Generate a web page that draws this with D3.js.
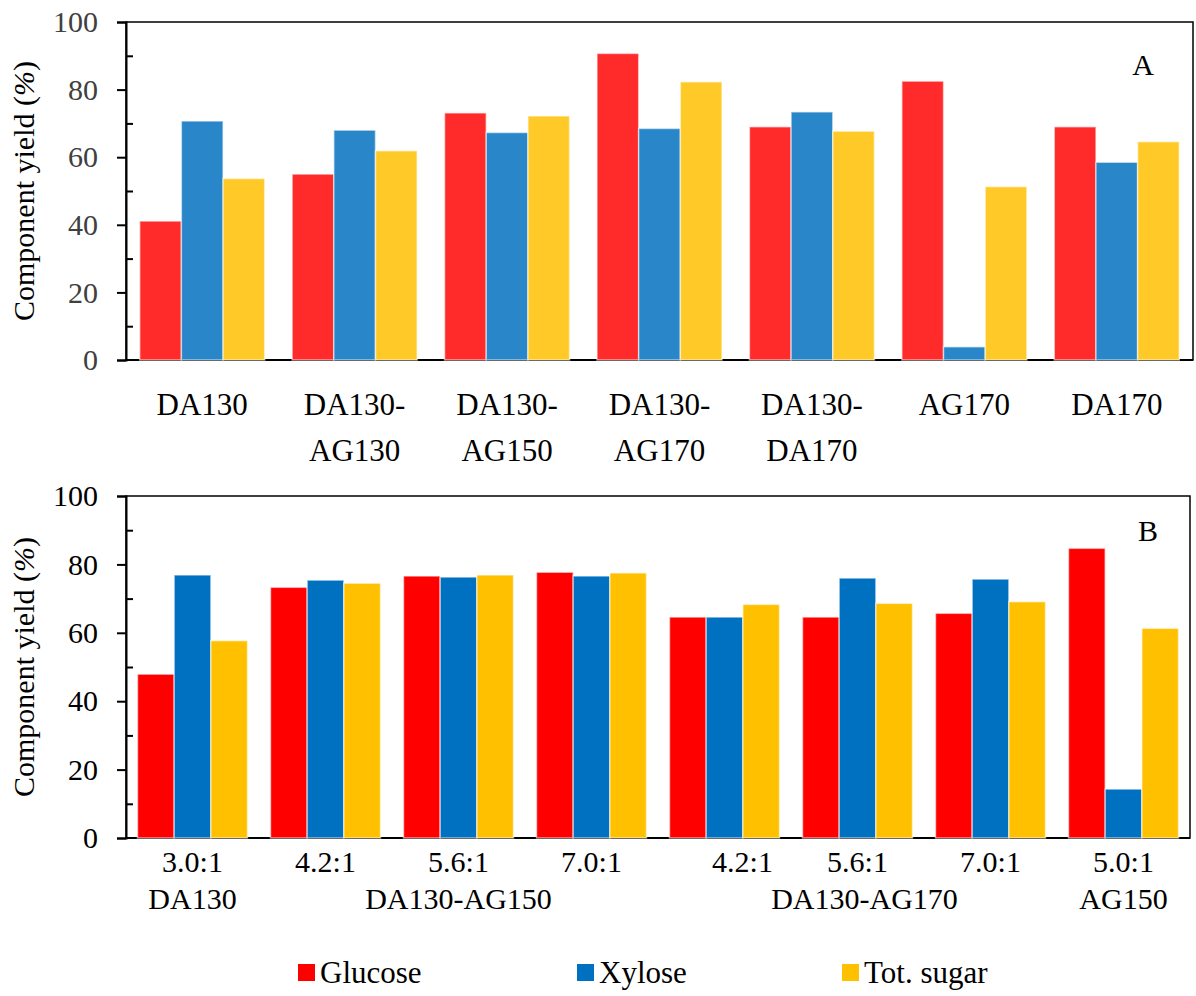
<!DOCTYPE html>
<html>
<head>
<meta charset="utf-8">
<script src="https://cdn.jsdelivr.net/npm/d3@7/dist/d3.min.js"></script>
<style>
    body { margin: 0; background: #fff; }
    svg { display: block; font-family: "Liberation Serif", "Times New Roman", serif; }
</style>
</head>
<body>
<svg id="chart" width="1196" height="996"></svg>
<script>
// Panel A data
const catsA = ["DA130", "DA130-AG130", "DA130-AG150", "DA130-AG170", "DA130-DA170", "AG170", "DA170"];
const labelsA = [["DA130"], ["DA130-", "AG130"], ["DA130-", "AG150"], ["DA130-", "AG170"], ["DA130-", "DA170"], ["AG170"], ["DA170"]];
const glucoseA = [41.1, 55.0, 73.1, 90.7, 69.0, 82.5, 69.0];
const xyloseA = [70.7, 68.0, 67.3, 68.5, 73.4, 3.9, 58.5];
const totSugarA = [53.7, 61.9, 72.2, 82.3, 67.7, 51.3, 64.6];

// Panel B data
const catsB = ["3.0:1 DA130", "4.2:1 AG150", "5.6:1 AG150", "7.0:1 AG150", "4.2:1 AG170", "5.6:1 AG170", "7.0:1 AG170", "5.0:1 AG150"];
const ratioLabelsB = ["3.0:1", "4.2:1", "5.6:1", "7.0:1", "4.2:1", "5.6:1", "7.0:1", "5.0:1"];
const groupLabelsB = ["DA130", "DA130-AG150", "DA130-AG170", "AG150"];
const groupSpanB = [[0, 0], [1, 3], [4, 6], [7, 7]];
const glucoseB = [47.9, 73.3, 76.6, 77.7, 64.6, 64.6, 65.7, 84.7];
const xyloseB = [76.9, 75.4, 76.3, 76.6, 64.6, 76.0, 75.7, 14.3];
const totSugarB = [57.7, 74.5, 76.9, 77.5, 68.3, 68.6, 69.1, 61.3];

const seriesNames = ["Glucose", "Xylose", "Tot. sugar"];
const yTicks = [0, 20, 40, 60, 80, 100];
const yMinorTicks = [10, 30, 50, 70, 90];

const svg = d3.select("#chart");

function drawPanel(cfg) {
    let g = svg.append("g").attr("transform", "translate(" + cfg.left + "," + cfg.top + ")");
    let w = cfg.width, h = cfg.height;

    let x0 = d3.scaleBand().domain(cfg.cats).range([0, w])
        .paddingInner(cfg.pad).paddingOuter(cfg.pad / 2);
    let x1 = d3.scaleBand().domain(seriesNames).range([0, x0.bandwidth()]);
    let y = d3.scaleLinear().domain([0, 100]).range([h, 0]);

    // frame
    g.append("rect")
        .attr("width", w).attr("height", h)
        .attr("fill", "none").attr("stroke", "#000").attr("stroke-width", 1.5);

    // y axis with major ticks outside
    let yAxis = g.append("g")
        .call(d3.axisLeft(y).tickValues(yTicks).tickSize(9).tickPadding(19));
    yAxis.select(".domain").attr("stroke-width", 2);
    yAxis.selectAll(".tick line").attr("stroke-width", 2);
    yAxis.selectAll(".tick text")
        .attr("font-size", 30)
        .attr("font-family", "Liberation Serif, serif")
        .attr("fill", cfg.tickColor);

    // minor ticks inside
    let yMinor = g.append("g")
        .call(d3.axisLeft(y).tickValues(yMinorTicks).tickSize(-7).tickFormat(""));
    yMinor.select(".domain").remove();
    yMinor.selectAll(".tick line").attr("stroke-width", 2);

    // baseline
    g.append("line")
        .attr("x1", 0).attr("x2", w)
        .attr("y1", y(0)).attr("y2", y(0))
        .attr("stroke", "#000").attr("stroke-width", 2);

    // bars
    let rows = cfg.cats.map(function(c, i) {
        return {cat: c, values: [cfg.glucose[i], cfg.xylose[i], cfg.tot[i]]};
    });
    let groups = g.selectAll(".grp").data(rows).enter().append("g")
        .attr("transform", function(d) { return "translate(" + x0(d.cat) + ",0)"; });
    groups.selectAll("rect")
        .data(function(d) { return d.values.map(function(v, k) { return {s: seriesNames[k], v: v}; }); })
        .enter().append("rect")
        .attr("x", function(d) { return x1(d.s); })
        .attr("y", function(d) { return y(d.v); })
        .attr("width", x1.bandwidth())
        .attr("height", function(d) { return h - y(d.v); })
        .attr("fill", function(d, k) { return cfg.colors[k]; })
        .attr("stroke", "rgba(255,255,255,0.55)")
        .attr("stroke-width", 1.5);

    // y title
    let title = g.append("text")
        .attr("transform", "translate(" + (34 - cfg.left) + "," + (h / 2) + ") rotate(-90)")
        .attr("text-anchor", "middle")
        .attr("font-size", 30)
        .attr("fill", "#000");
    title.append("tspan").text("Component yield (");
    title.append("tspan").attr("font-style", "italic").text("%");
    title.append("tspan").text(")");

    // panel letter
    g.append("text")
        .attr("x", cfg.letterX).attr("y", cfg.letterY)
        .attr("text-anchor", "middle")
        .attr("font-size", 30)
        .text(cfg.letter);

    return {g: g, x0: x0};
}

// Panel A
let panelA = drawPanel({
    left: 126, top: 22, width: 1067, height: 338,
    cats: catsA, glucose: glucoseA, xylose: xyloseA, tot: totSugarA,
    pad: 0.18, colors: ["#FF2A2A", "#2986C9", "#FFCA28"], tickColor: "#404040",
    letter: "A", letterX: 1017, letterY: 53
});
labelsA.forEach(function(lines, i) {
    let cx = panelA.x0(catsA[i]) + panelA.x0.bandwidth() / 2;
    lines.forEach(function(t, j) {
        panelA.g.append("text")
            .attr("x", cx).attr("y", 393 + j * 46)
            .attr("text-anchor", "middle")
            .attr("font-size", 31)
            .text(t);
    });
});

// Panel B
let panelB = drawPanel({
    left: 126, top: 496, width: 1064, height: 342,
    cats: catsB, glucose: glucoseB, xylose: xyloseB, tot: totSugarB,
    pad: 0.173, colors: ["#FF0000", "#0070C0", "#FFC000"], tickColor: "#000",
    letter: "B", letterX: 1022, letterY: 45
});
let labelNudgeB = [0, 0, 0, 0, 18, 0, 0, 0];
ratioLabelsB.forEach(function(t, i) {
    panelB.g.append("text")
        .attr("x", panelB.x0(catsB[i]) + panelB.x0.bandwidth() / 2 + labelNudgeB[i])
        .attr("y", 376)
        .attr("text-anchor", "middle")
        .attr("font-size", 30)
        .text(t);
});
groupLabelsB.forEach(function(t, i) {
    let a = panelB.x0(catsB[groupSpanB[i][0]]);
    let b = panelB.x0(catsB[groupSpanB[i][1]]) + panelB.x0.bandwidth();
    panelB.g.append("text")
        .attr("x", (a + b) / 2 + (i === 2 ? 7 : 0))
        .attr("y", 413)
        .attr("text-anchor", "middle")
        .attr("font-size", 30)
        .text(t);
});

// Legend
const legendColors = ["#FF0000", "#0070C0", "#FFC000"];
const legendX = [298, 577, 842];
let legend = svg.append("g");
seriesNames.forEach(function(name, i) {
    legend.append("rect")
        .attr("x", legendX[i]).attr("y", 964)
        .attr("width", 17).attr("height", 17)
        .attr("fill", legendColors[i]);
    legend.append("text")
        .attr("x", legendX[i] + 22).attr("y", 983)
        .attr("font-size", 31)
        .text(name);
});
</script>
</body>
</html>
